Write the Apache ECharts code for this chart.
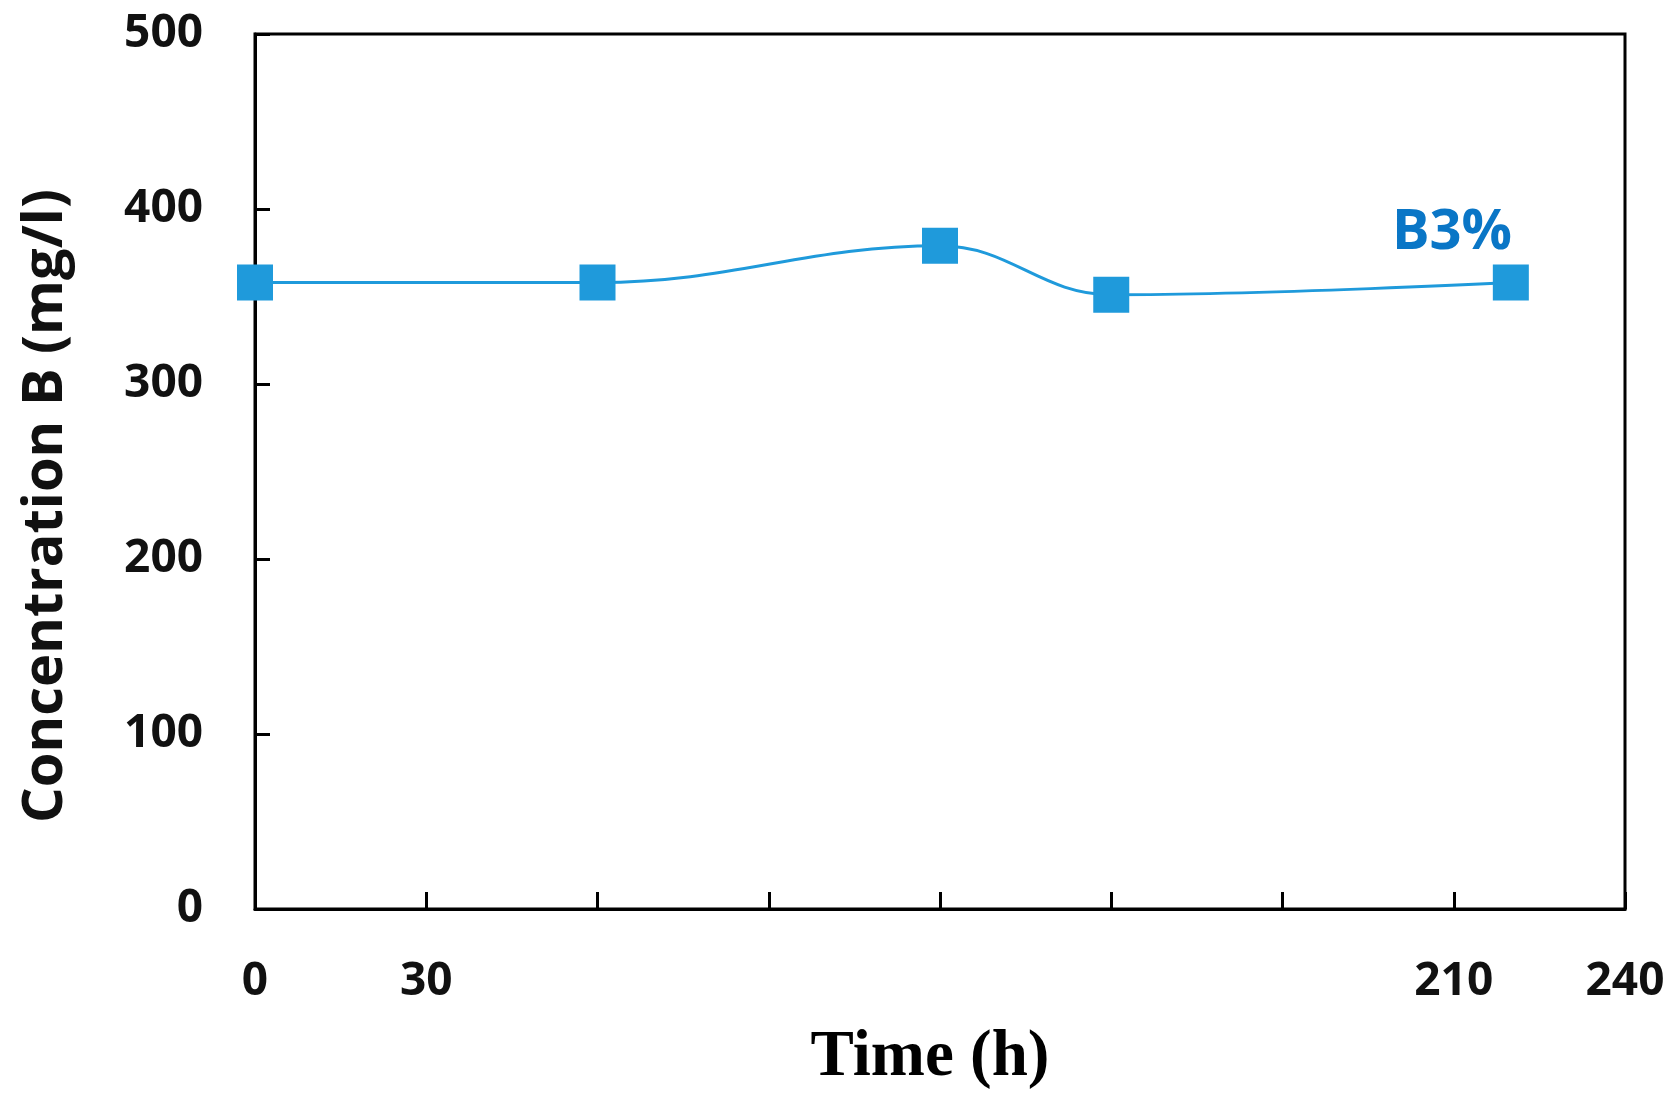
<!DOCTYPE html>
<html>
<head>
<meta charset="utf-8">
<script src="https://cdn.jsdelivr.net/npm/echarts@6/dist/echarts.min.js"></script>
<style>
html,body{margin:0;padding:0;background:#fff;}
#chart{width:1679px;height:1101px;}
</style>
</head>
<body>
<div id="chart"></div>
<script>
// Data
const timeHours = [0, 60, 120, 150, 220];
const concentrationB = [358, 358, 379, 351, 358];
const seriesName = 'B3%';
const xTickLabels = [0, 30, 210, 240];
const yTickLabels = [0, 100, 200, 300, 400, 500];
const xTitle = 'Time (h)';
const yTitle = 'Concentration B (mg/l)';

const chart = echarts.init(document.getElementById('chart'));
const lineColor = '#1F9ADB';
const labelFont = { fontFamily: 'Open Sans', fontWeight: 'bold', fontSize: 46, color: '#111' };

chart.setOption({
  animation: false,
  backgroundColor: '#fff',
  grid: {
    left: 255, right: 54, top: 34, bottom: 192,
    show: true, borderColor: '#000', borderWidth: 3, backgroundColor: 'transparent'
  },
  xAxis: {
    type: 'value', min: 0, max: 240, interval: 30,
    axisLine: { show: true, onZero: false, lineStyle: { color: '#000', width: 3 } },
    axisTick: { show: true, inside: true, length: 17, lineStyle: { color: '#000', width: 3 } },
    splitLine: { show: false },
    axisLabel: Object.assign({}, labelFont, {
      margin: 50,
      formatter: v => xTickLabels.includes(v) ? String(v) : ''
    })
  },
  yAxis: {
    type: 'value', min: 0, max: 500, interval: 100,
    axisLine: { show: true, lineStyle: { color: '#000', width: 3 } },
    axisTick: { show: true, inside: true, length: 15, lineStyle: { color: '#000', width: 3 } },
    splitLine: { show: false },
    axisLabel: Object.assign({}, labelFont, {
      margin: 52,
      formatter: v => yTickLabels.includes(v) ? String(v) : ''
    })
  },
  series: [{
    name: seriesName,
    type: 'line',
    smooth: 0.4,
    data: timeHours.map((t, i) => [t, concentrationB[i]]),
    symbol: 'rect',
    symbolSize: 36,
    itemStyle: { color: lineColor },
    lineStyle: { color: lineColor, width: 3 },
    clip: false
  }],
  graphic: [
    {
      type: 'text', x: 46, y: 506, rotation: Math.PI / 2,
      style: {
        text: yTitle, font: 'bold 56px "Open Sans"', fill: '#111',
        textAlign: 'center', textVerticalAlign: 'middle'
      }
    },
    {
      type: 'text', x: 930, y: 1058,
      style: {
        text: xTitle, font: 'bold 65px "Liberation Serif"', fill: '#000',
        textAlign: 'center', textVerticalAlign: 'middle'
      }
    },
    {
      type: 'text', x: 1452, y: 233,
      style: {
        text: seriesName, font: 'bold 56px "Open Sans"', fill: '#0A76C6',
        textAlign: 'center', textVerticalAlign: 'middle'
      }
    }
  ]
});
</script>
</body>
</html>
